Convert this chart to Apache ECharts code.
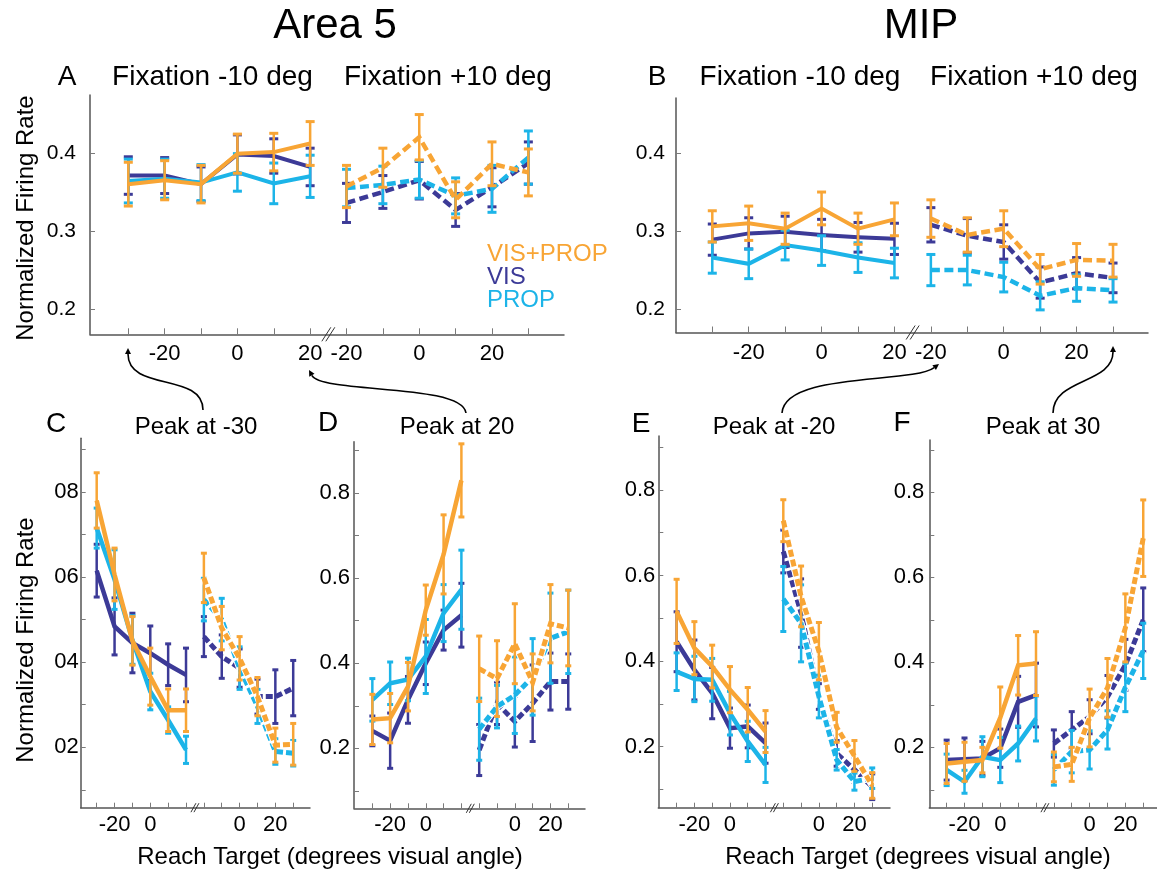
<!DOCTYPE html>
<html>
<head>
<meta charset="utf-8">
<script src="https://cdn.jsdelivr.net/npm/echarts@6/dist/echarts.min.js"></script>
<style>
  html, body { margin: 0; padding: 0; background: #ffffff; }
  #chart { width: 1157px; height: 869px; }
</style>
</head>
<body>
<div id="chart"></div>
<script>
// ---------------------------------------------------------------------------
// Reach targets (degrees visual angle) for the two fixation conditions
// ---------------------------------------------------------------------------
const targetsFixMinus10 = [-30, -20, -10, 0, 10, 20];
const targetsFixPlus10  = [-20, -10, 0, 10, 20, 30];

// Targets that carry a tick label under each half of an axis
const labelledTop       = { left: [-20, 0, 20], right: [-20, 0, 20] };
const labelledLower     = { left: [-20, 0],     right: [0, 20] };

// y tick values and labels
const topYTicks   = [0.2, 0.3, 0.4];
const topYLabels  = ['0.2', '0.3', '0.4'];
const lowYTicks   = [0.1, 0.2, 0.3, 0.4, 0.5, 0.6, 0.7, 0.8, 0.9];
const lowYLabelAt = [0.2, 0.4, 0.6, 0.8];
const lowYLabels  = ['0.2', '0.4', '0.6', '0.8'];
const lowYLabelsC = ['02', '04', '06', '08'];

// ---------------------------------------------------------------------------
// Normalized firing rate (mean) and error per target.
// First six values: fixation -10 deg, last six: fixation +10 deg.
// ---------------------------------------------------------------------------
// A — Area 5, population
const A_VIS       = [0.371, 0.371, 0.360, 0.398, 0.396, 0.382, 0.336, 0.350, 0.365, 0.327, 0.356, 0.387];
const A_VIS_ERR   = [0.024, 0.023, 0.022, 0.025, 0.022, 0.024, 0.025, 0.021, 0.024, 0.021, 0.025, 0.027];
const A_PROP      = [0.364, 0.367, 0.362, 0.375, 0.361, 0.370, 0.355, 0.359, 0.366, 0.345, 0.354, 0.394];
const A_PROP_ERR  = [0.028, 0.025, 0.023, 0.024, 0.026, 0.027, 0.024, 0.024, 0.024, 0.023, 0.030, 0.034];
const A_BOTH      = [0.360, 0.365, 0.360, 0.399, 0.401, 0.412, 0.357, 0.381, 0.420, 0.340, 0.386, 0.375];
const A_BOTH_ERR  = [0.028, 0.025, 0.024, 0.025, 0.024, 0.028, 0.027, 0.025, 0.029, 0.023, 0.028, 0.030];

// B — MIP, population
const B_VIS       = [0.289, 0.297, 0.299, 0.295, 0.292, 0.290, 0.308, 0.294, 0.286, 0.234, 0.246, 0.240];
const B_VIS_ERR   = [0.020, 0.020, 0.020, 0.020, 0.019, 0.020, 0.022, 0.022, 0.022, 0.020, 0.020, 0.019];
const B_PROP      = [0.266, 0.258, 0.282, 0.275, 0.266, 0.259, 0.250, 0.250, 0.241, 0.217, 0.227, 0.224];
const B_PROP_ERR  = [0.020, 0.019, 0.019, 0.019, 0.019, 0.019, 0.020, 0.019, 0.019, 0.018, 0.017, 0.015];
const B_BOTH      = [0.306, 0.310, 0.303, 0.329, 0.303, 0.315, 0.316, 0.295, 0.303, 0.251, 0.263, 0.262];
const B_BOTH_ERR  = [0.020, 0.022, 0.020, 0.021, 0.020, 0.021, 0.024, 0.022, 0.023, 0.019, 0.021, 0.021];

// C — Area 5, peak at -30
const C_VIS       = [0.615, 0.484, 0.445, 0.421, 0.394, 0.370, 0.460, 0.413, 0.386, 0.319, 0.319, 0.339];
const C_VIS_ERR   = [0.062, 0.067, 0.070, 0.064, 0.049, 0.063, 0.047, 0.051, 0.045, 0.041, 0.063, 0.065];
const C_PROP      = [0.715, 0.594, 0.452, 0.331, 0.264, 0.194, 0.547, 0.500, 0.386, 0.296, 0.190, 0.186];
const C_PROP_ERR  = [0.047, 0.070, 0.057, 0.043, 0.031, 0.032, 0.050, 0.050, 0.050, 0.040, 0.030, 0.030];
const C_BOTH      = [0.780, 0.606, 0.450, 0.366, 0.287, 0.287, 0.598, 0.480, 0.409, 0.319, 0.205, 0.207];
const C_BOTH_ERR  = [0.065, 0.062, 0.057, 0.067, 0.050, 0.050, 0.058, 0.051, 0.051, 0.045, 0.040, 0.049];

// D — Area 5, peak at 20
const D_VIS       = [0.241, 0.218, 0.314, 0.400, 0.478, 0.513, 0.196, 0.306, 0.263, 0.306, 0.357, 0.357];
const D_VIS_ERR   = [0.035, 0.065, 0.055, 0.050, 0.047, 0.075, 0.060, 0.050, 0.060, 0.090, 0.067, 0.065];
const D_PROP      = [0.314, 0.353, 0.362, 0.416, 0.518, 0.573, 0.245, 0.298, 0.325, 0.368, 0.459, 0.474];
const D_PROP_ERR  = [0.050, 0.050, 0.050, 0.087, 0.067, 0.093, 0.073, 0.050, 0.090, 0.090, 0.106, 0.098];
const D_BOTH      = [0.268, 0.271, 0.345, 0.525, 0.656, 0.830, 0.387, 0.364, 0.446, 0.355, 0.493, 0.483];
const D_BOTH_ERR  = [0.059, 0.058, 0.057, 0.059, 0.093, 0.086, 0.077, 0.089, 0.094, 0.067, 0.092, 0.089];

// E — MIP, peak at -20
const E_VIS       = [0.445, 0.379, 0.325, 0.243, 0.247, 0.208, 0.656, 0.512, 0.317, 0.184, 0.146, 0.106];
const E_VIS_ERR   = [0.070, 0.070, 0.060, 0.047, 0.050, 0.047, 0.050, 0.080, 0.030, 0.030, 0.030, 0.030];
const E_PROP      = [0.375, 0.358, 0.356, 0.278, 0.212, 0.157, 0.545, 0.488, 0.317, 0.169, 0.118, 0.126];
const E_PROP_ERR  = [0.044, 0.053, 0.050, 0.051, 0.047, 0.041, 0.076, 0.090, 0.050, 0.024, 0.020, 0.024];
const E_BOTH      = [0.516, 0.430, 0.387, 0.333, 0.286, 0.235, 0.728, 0.551, 0.423, 0.245, 0.178, 0.109];
const E_BOTH_ERR  = [0.075, 0.062, 0.050, 0.054, 0.052, 0.049, 0.049, 0.071, 0.067, 0.035, 0.036, 0.030];

// F — MIP, peak at 30
const F_VIS       = [0.170, 0.172, 0.174, 0.198, 0.307, 0.323, 0.209, 0.241, 0.272, 0.319, 0.394, 0.500];
const F_VIS_ERR   = [0.047, 0.050, 0.040, 0.045, 0.060, 0.075, 0.032, 0.043, 0.040, 0.050, 0.060, 0.075];
const F_PROP      = [0.147, 0.119, 0.178, 0.170, 0.209, 0.268, 0.147, 0.190, 0.194, 0.241, 0.341, 0.427];
const F_PROP_ERR  = [0.037, 0.027, 0.047, 0.053, 0.041, 0.053, 0.036, 0.050, 0.045, 0.045, 0.057, 0.065];
const F_BOTH      = [0.162, 0.166, 0.170, 0.270, 0.393, 0.397, 0.154, 0.160, 0.269, 0.340, 0.481, 0.692];
const F_BOTH_ERR  = [0.047, 0.046, 0.030, 0.072, 0.070, 0.075, 0.035, 0.040, 0.068, 0.069, 0.080, 0.090];

// ---------------------------------------------------------------------------
// Styling
// ---------------------------------------------------------------------------
const FONT = '"Liberation Sans", Arial, Helvetica, sans-serif';
const COLOR = { VIS: '#3c3a97', PROP: '#1cb4e8', BOTH: '#f8a535' };
const AXIS_COLOR = '#555555';

// Panel layout: grid box in pixels, axis extents in slot / rate units
const panelLayout = [
  { name: 'A', data: [A_VIS, A_VIS_ERR, A_PROP, A_PROP_ERR, A_BOTH, A_BOTH_ERR], top: true,
    grid: { left: 90, top: 95, width: 474, height: 239.3 }, x: [-1.053, 11.98], y: [0.168, 0.474], yMargin: 14 },
  { name: 'B', data: [B_VIS, B_VIS_ERR, B_PROP, B_PROP_ERR, B_BOTH, B_BOTH_ERR], top: true,
    grid: { left: 676, top: 98, width: 472, height: 234.5 }, x: [-0.996, 11.96], y: [0.170, 0.4705], yMargin: 11 },
  { name: 'C', data: [C_VIS, C_VIS_ERR, C_PROP, C_PROP_ERR, C_BOTH, C_BOTH_ERR], top: false, yLabels: lowYLabelsC,
    grid: { left: 80.7, top: 438.3, width: 229.3, height: 369.4 }, x: [-0.895, 11.94], y: [0.058, 0.926], yMargin: 2 },
  { name: 'D', data: [D_VIS, D_VIS_ERR, D_PROP, D_PROP_ERR, D_BOTH, D_BOTH_ERR], top: false, yLabels: lowYLabels,
    grid: { left: 354, top: 441.7, width: 231, height: 366.6 }, x: [-1.03, 11.94], y: [0.059, 0.921], yMargin: 4 },
  { name: 'E', data: [E_VIS, E_VIS_ERR, E_PROP, E_PROP_ERR, E_BOTH, E_BOTH_ERR], top: false, yLabels: lowYLabels,
    grid: { left: 658.3, top: 436, width: 231.7, height: 371.7 }, x: [-1.03, 12.0], y: [0.057, 0.926], yMargin: 3 },
  { name: 'F', data: [F_VIS, F_VIS_ERR, F_PROP, F_PROP_ERR, F_BOTH, F_BOTH_ERR], top: false, yLabels: lowYLabels,
    grid: { left: 929.3, top: 440, width: 227.7, height: 367.7 }, x: [-0.97, 11.77], y: [0.058, 0.923], yMargin: 5 }
];

// Slot on the broken x axis: fixation -10 targets in slots 0..5, fixation +10 in 6..11
function slotOf(fix, target) {
  return fix === 0 ? targetsFixMinus10.indexOf(target) : 6 + targetsFixPlus10.indexOf(target);
}
const allSlots = targetsFixMinus10.map((t) => slotOf(0, t)).concat(targetsFixPlus10.map((t) => slotOf(1, t)));
function slotTarget(slot) {
  return slot < 6 ? targetsFixMinus10[slot] : targetsFixPlus10[slot - 6];
}

function errorBarRenderer(color, capHalf, lw) {
  return function (params, api) {
    const x = api.value(0), m = api.value(1), e = api.value(2);
    const hi = api.coord([x, m + e]);
    const lo = api.coord([x, m - e]);
    return {
      type: 'group',
      children: [
        { type: 'line', shape: { x1: hi[0], y1: hi[1], x2: lo[0], y2: lo[1] }, style: { stroke: color, lineWidth: lw } },
        { type: 'line', shape: { x1: hi[0] - capHalf, y1: hi[1], x2: hi[0] + capHalf, y2: hi[1] }, style: { stroke: color, lineWidth: 3 } },
        { type: 'line', shape: { x1: lo[0] - capHalf, y1: lo[1], x2: lo[0] + capHalf, y2: lo[1] }, style: { stroke: color, lineWidth: 3 } }
      ]
    };
  };
}

function breakRenderer(yMin, big) {
  return function (params, api) {
    const p = api.coord([api.value(0), yMin]);
    const h = big ? 7 : 4.5, w = big ? 4.5 : 2.5, gap = big ? 4 : 3;
    const mk = (dx) => ({ type: 'line',
      shape: { x1: p[0] + dx - w, y1: p[1] + h, x2: p[0] + dx + w, y2: p[1] - h },
      style: { stroke: '#333', lineWidth: 1 } });
    return { type: 'group', children: [mk(-gap / 2), mk(gap / 2)] };
  };
}

const grids = [], xAxes = [], yAxes = [], series = [];
let z = 3;

panelLayout.forEach((p, i) => {
  grids.push(Object.assign({ containLabel: false }, p.grid));

  const lab = p.top ? labelledTop : labelledLower;
  const labelSlots = lab.left.map((t) => slotOf(0, t)).concat(lab.right.map((t) => slotOf(1, t)));

  xAxes.push({
    type: 'value', gridIndex: i, min: p.x[0], max: p.x[1],
    splitLine: { show: false },
    axisLine: { show: true, onZero: false, lineStyle: { color: AXIS_COLOR, width: 1.5 } },
    axisTick: { show: true, inside: true, length: p.top ? 6 : 5, customValues: allSlots,
                lineStyle: { color: '#7a7a7a', width: 1 } },
    axisLabel: { customValues: labelSlots, formatter: (v) => String(slotTarget(Math.round(v))),
                 fontSize: 22, fontFamily: FONT, color: '#000', margin: p.top ? 9 : 6 }
  });

  yAxes.push({
    type: 'value', gridIndex: i, min: p.y[0], max: p.y[1],
    splitLine: { show: false },
    axisLine: { show: true, onZero: false, lineStyle: { color: AXIS_COLOR, width: 1.5 } },
    axisTick: { show: true, inside: true, length: 5, customValues: p.top ? topYTicks : lowYTicks,
                lineStyle: { color: '#7a7a7a', width: 1 } },
    axisLabel: {
      customValues: p.top ? topYTicks : lowYLabelAt,
      formatter: (v) => {
        const ticks = p.top ? topYTicks : lowYLabelAt;
        const labels = p.top ? topYLabels : p.yLabels;
        const k = ticks.findIndex((t) => Math.abs(t - v) < 1e-6);
        return k >= 0 ? labels[k] : '';
      },
      fontSize: p.top ? 21 : 22, fontFamily: FONT, color: '#000', margin: p.yMargin
    }
  });

  const conds = [['VIS', p.data[0], p.data[1]], ['PROP', p.data[2], p.data[3]], ['BOTH', p.data[4], p.data[5]]];
  const solidW = p.top ? 4 : 4.5;
  const dashW = p.top ? 4.5 : 5;
  const dash = p.top ? [9, 4.5] : [7, 3];

  conds.forEach(([key, mean, err]) => {
    const color = COLOR[key];
    const left = allSlots.slice(0, 6).map((s) => [s, mean[s]]);
    const right = allSlots.slice(6).map((s) => [s, mean[s]]);

    series.push({
      type: 'line', xAxisIndex: i, yAxisIndex: i, data: left, z: z++,
      symbol: 'none', silent: true, animation: false,
      lineStyle: { color: color, width: solidW, type: 'solid', join: 'miter' }
    });
    if (!p.top) {
      // white halo under the dashed fixation +10 trace
      series.push({
        type: 'line', xAxisIndex: i, yAxisIndex: i, data: right, z: z++,
        symbol: 'none', silent: true, animation: false,
        lineStyle: { color: '#ffffff', width: dashW + 2, type: 'solid' }
      });
    }
    series.push({
      type: 'line', xAxisIndex: i, yAxisIndex: i, data: right, z: z++,
      symbol: 'none', silent: true, animation: false,
      lineStyle: { color: color, width: dashW, type: dash, join: 'miter' }
    });
    series.push({
      type: 'custom', xAxisIndex: i, yAxisIndex: i, z: z++, silent: true, animation: false,
      data: allSlots.map((s) => [s, mean[s], err[s]]),
      encode: { x: 0, y: 1 },
      renderItem: errorBarRenderer(color, p.top ? 4.5 : 3, 2.5)
    });
  });

  // axis break mark between the two fixation halves
  series.push({
    type: 'custom', xAxisIndex: i, yAxisIndex: i, z: z++, silent: true, animation: false,
    data: [[5.5, p.y[0]]], encode: { x: 0, y: 1 }, clip: false,
    renderItem: breakRenderer(p.y[0], p.top)
  });
});

// ---------------------------------------------------------------------------
// Text and annotation arrows
// ---------------------------------------------------------------------------
function txt(text, x, y, size, extra) {
  return Object.assign({
    type: 'text', x: x, y: y, silent: true,
    style: { text: text, fontSize: size, fontFamily: FONT, fill: '#000', align: 'center', verticalAlign: 'middle' }
  }, extra || {});
}
function legendTxt(text, y, color) {
  return { type: 'text', x: 487, y: y, silent: true,
    style: { text: text, fontSize: 24, fontFamily: FONT, fill: color, align: 'left', verticalAlign: 'middle' } };
}
function arrow(p0, c1, c2, p1) {
  const ang = Math.atan2(p1[1] - c2[1], p1[0] - c2[0]);
  const L = 6, W = 3;
  const bx = p1[0] - L * Math.cos(ang), by = p1[1] - L * Math.sin(ang);
  return [
    { type: 'bezierCurve', silent: true,
      shape: { x1: p0[0], y1: p0[1], cpx1: c1[0], cpy1: c1[1], cpx2: c2[0], cpy2: c2[1], x2: bx, y2: by },
      style: { stroke: '#000', lineWidth: 1.6, fill: null } },
    { type: 'polygon', silent: true,
      shape: { points: [p1, [bx + W * Math.sin(ang), by - W * Math.cos(ang)], [bx - W * Math.sin(ang), by + W * Math.cos(ang)]] },
      style: { fill: '#000' } }
  ];
}

const graphics = [
  txt('Area 5', 335, 26, 42),
  txt('MIP', 921, 26, 42),
  txt('A', 67, 77, 28),
  txt('Fixation -10 deg', 212.5, 77, 28),
  txt('Fixation +10 deg', 448, 77, 28),
  txt('B', 657, 77, 28),
  txt('Fixation -10 deg', 800, 77, 28),
  txt('Fixation +10 deg', 1034, 77, 28),
  txt('C', 56, 424, 28),
  txt('Peak at -30', 196, 427, 24),
  txt('D', 328, 423, 28),
  txt('Peak at 20', 457, 427, 24),
  txt('E', 641, 424, 28),
  txt('Peak at -20', 774, 427, 24),
  txt('F', 902, 423, 28),
  txt('Peak at 30', 1043, 427, 24),
  txt('Reach Target (degrees visual angle)', 330, 857, 24),
  txt('Reach Target (degrees visual angle)', 918, 857, 24),
  txt('Normalized Firing Rate', 26, 218, 24, { rotation: Math.PI / 2 }),
  txt('Normalized Firing Rate', 26, 640, 24, { rotation: Math.PI / 2 }),
  legendTxt('VIS+PROP', 254, COLOR.BOTH),
  legendTxt('VIS', 277, COLOR.VIS),
  legendTxt('PROP', 300, COLOR.PROP)
].concat(
  arrow([203, 410], [203, 372], [128, 392], [128, 348]),
  arrow([466, 413], [462, 383], [322, 394], [309, 370]),
  arrow([782, 413], [785, 372], [912, 384], [939, 364]),
  arrow([1053, 413], [1053, 378], [1113, 384], [1113, 346])
);

const chart = echarts.init(document.getElementById('chart'), null, { renderer: 'canvas' });
chart.setOption({
  backgroundColor: '#ffffff',
  animation: false,
  grid: grids,
  xAxis: xAxes,
  yAxis: yAxes,
  series: series,
  graphic: graphics
});
</script>
</body>
</html>
